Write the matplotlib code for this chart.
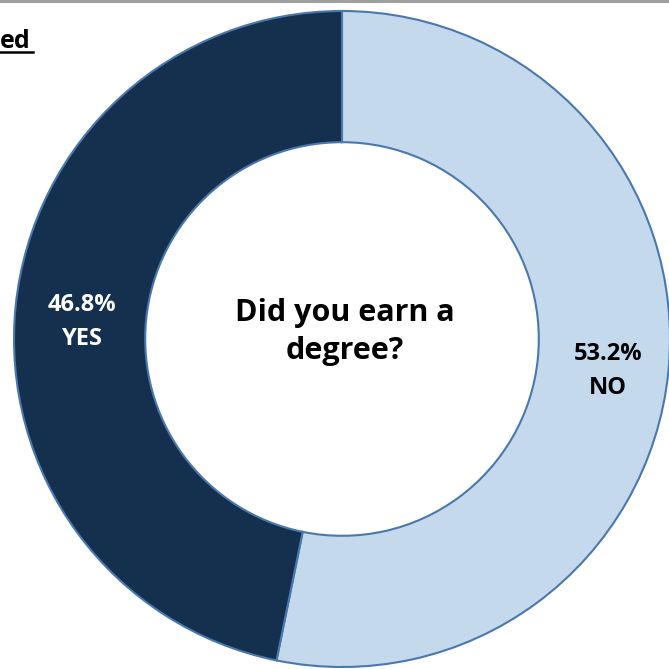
import matplotlib
matplotlib.use("Agg")
import matplotlib.pyplot as plt
from matplotlib.lines import Line2D

categories = ["NO", "YES"]
values = [53.2, 46.8]
colors = ["#C5D9ED", "#15304F"]
label_colors = ["#000000", "#FFFFFF"]
center_lines = ["Did you earn a", "degree?"]

W = H = 669
fig = plt.figure(figsize=(W / 100, H / 100), dpi=100)
fig.patch.set_facecolor("white")

cx, cy, R = 342, 339, 328
ax = fig.add_axes([(cx - R) / W, (H - cy - R) / H, 2 * R / W, 2 * R / H])

wedges, _ = ax.pie(values, colors=colors, startangle=90, counterclock=False,
                   radius=1.0,
                   wedgeprops=dict(width=0.4, edgecolor="#4A78AD", linewidth=1.5))
ax.set_xlim(-1, 1)
ax.set_ylim(-1, 1)
ax.set_aspect("equal")
ax.axis("off")
for w in wedges:
    w.set_clip_on(False)


def px(x, y):
    return (x - cx) / R, (cy - y) / R


font = "Open Sans"
lab_fs = 17
# NO label
for txt, (x, y) in zip([f"{values[0]}%", categories[0]], [(608, 360), (608, 394)]):
    ax.text(*px(x, y), txt, ha="center", va="baseline", fontsize=lab_fs,
            fontweight="bold", color=label_colors[0], family=font)
# YES label
for txt, (x, y) in zip([f"{values[1]}%", categories[1]], [(82, 311), (82, 345)]):
    ax.text(*px(x, y), txt, ha="center", va="baseline", fontsize=lab_fs,
            fontweight="bold", color=label_colors[1], family=font)

for txt, y in zip(center_lines, [321, 359]):
    ax.text(*px(345, y), txt, ha="center", va="baseline", fontsize=22,
            fontweight="bold", color="black", family=font)

fig.text(0 / W, 1 - 48 / H, "ed", ha="left", va="baseline", fontsize=18,
         fontweight="bold", color="black", family=font)
fig.add_artist(Line2D([0, 33 / W], [1 - 52 / H, 1 - 52 / H], color="black",
                      linewidth=1.8, transform=fig.transFigure))
fig.add_artist(Line2D([0, 1], [1 - 1 / H, 1 - 1 / H], color="#A0A0A0",
                      linewidth=2.2, transform=fig.transFigure))

fig.savefig("out.png", dpi=100, facecolor="white")
